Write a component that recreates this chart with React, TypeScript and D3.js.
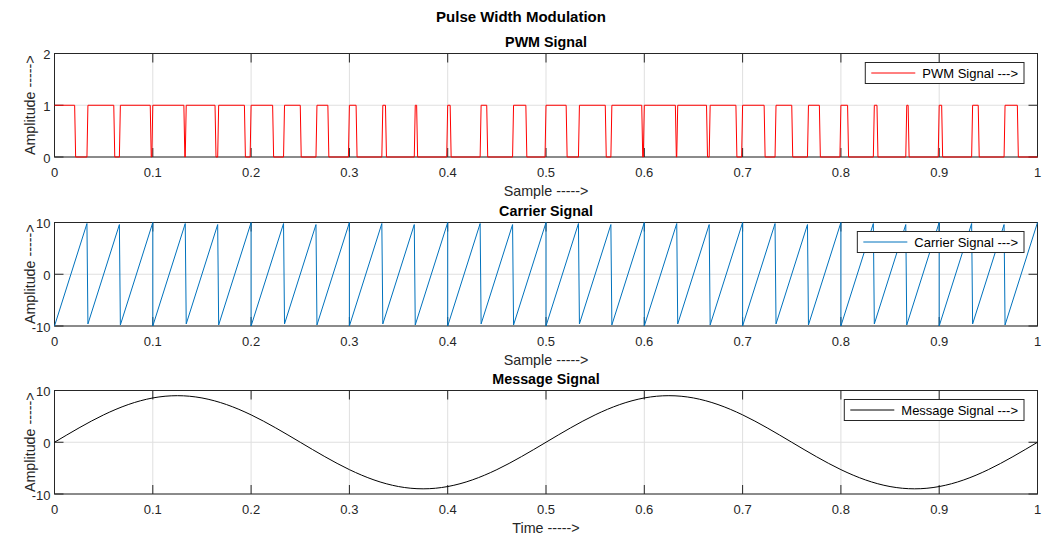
import * as d3 from "d3";
import { useEffect, useRef } from "react";

const xTicks = [0, 0.1, 0.2, 0.3, 0.4, 0.5, 0.6, 0.7, 0.8, 0.9, 1];
const xTickLabels = ["0", "0.1", "0.2", "0.3", "0.4", "0.5", "0.6", "0.7", "0.8", "0.9", "1"];

// PWM: output goes high at each rise time and low at the following fall time
const pwmRise = [
  0, 0.034, 0.067, 0.1, 0.134, 0.167, 0.2, 0.234, 0.267, 0.3, 0.334, 0.367, 0.4, 0.434, 0.467,
  0.5, 0.534, 0.567, 0.6, 0.634, 0.667, 0.7, 0.734, 0.767, 0.8, 0.834, 0.867, 0.9, 0.934, 0.967,
];
const pwmFall = [
  0.0205, 0.0603, 0.0974, 0.1316, 0.1633, 0.1932, 0.2219, 0.25, 0.2781, 0.3068, 0.3367, 0.3684,
  0.4025, 0.4397, 0.4795, 0.5205, 0.5603, 0.5974, 0.6316, 0.6633, 0.6932, 0.7219, 0.75, 0.7781,
  0.8068, 0.8367, 0.8684, 0.9025, 0.9397, 0.9795,
];

// Carrier (sawtooth): low and high corners of every tooth
const carrierLowT = [
  0, 0.034, 0.067, 0.1, 0.134, 0.167, 0.2, 0.234, 0.267, 0.3, 0.334, 0.367, 0.4, 0.434, 0.467,
  0.5, 0.534, 0.567, 0.6, 0.634, 0.667, 0.7, 0.734, 0.767, 0.8, 0.834, 0.867, 0.9, 0.934, 0.967,
];
const carrierLowV = [
  -10, -9.6, -9.8, -10, -9.6, -9.8, -10, -9.6, -9.8, -10, -9.6, -9.8, -10, -9.6, -9.8,
  -10, -9.6, -9.8, -10, -9.6, -9.8, -10, -9.6, -9.8, -10, -9.6, -9.8, -10, -9.6, -9.8,
];
const carrierHighT = [
  0.033, 0.066, 0.1, 0.133, 0.166, 0.2, 0.233, 0.266, 0.3, 0.333, 0.366, 0.4, 0.433, 0.466, 0.5,
  0.533, 0.566, 0.6, 0.633, 0.666, 0.7, 0.733, 0.766, 0.8, 0.833, 0.866, 0.9, 0.933, 0.966, 1,
];
const carrierHighV = [
  9.8, 9.6, 10, 9.8, 9.6, 10, 9.8, 9.6, 10, 9.8, 9.6, 10, 9.8, 9.6, 10,
  9.8, 9.6, 10, 9.8, 9.6, 10, 9.8, 9.6, 10, 9.8, 9.6, 10, 9.8, 9.6, 10,
];

// Message signal
const messageT = [
  0, 0.025, 0.05, 0.075, 0.1, 0.125, 0.15, 0.175, 0.2, 0.225, 0.25, 0.275, 0.3, 0.325, 0.35,
  0.375, 0.4, 0.425, 0.45, 0.475, 0.5, 0.525, 0.55, 0.575, 0.6, 0.625, 0.65, 0.675, 0.7, 0.725,
  0.75, 0.775, 0.8, 0.825, 0.85, 0.875, 0.9, 0.925, 0.95, 0.975, 1,
];
const messageV = [
  0, 2.78, 5.29, 7.28, 8.56, 9, 8.56, 7.28, 5.29, 2.78, 0, -2.78, -5.29, -7.28, -8.56,
  -9, -8.56, -7.28, -5.29, -2.78, 0, 2.78, 5.29, 7.28, 8.56, 9, 8.56, 7.28, 5.29, 2.78,
  0, -2.78, -5.29, -7.28, -8.56, -9, -8.56, -7.28, -5.29, -2.78, 0,
];

const FONT = "'Liberation Sans', Arial, Helvetica, sans-serif";
const AXIS = "#262626";

export default function App() {
  const svgRef = useRef<SVGSVGElement>(null);

  useEffect(() => {
    if (!svgRef.current) return;
    document.body.style.margin = "0";
    const width = 1042;
    const height = 540;
    const svg = d3.select<SVGSVGElement, unknown>(svgRef.current);
    svg.selectAll("*").remove();
    svg.attr("width", width).attr("height", height);

    svg.append("rect").attr("width", width).attr("height", height).attr("fill", "#ffffff");

    const left = 54.5;
    const right = 1037.5;
    const plotH = 103.5;
    const tops = [53.5, 222.5, 390.5];

    svg
      .append("text")
      .attr("x", width / 2)
      .attr("y", 22)
      .attr("text-anchor", "middle")
      .attr("font-family", FONT)
      .attr("font-weight", "bold")
      .attr("font-size", "15px")
      .attr("fill", "#000")
      .text("Pulse Width Modulation");

    const pwmPts: [number, number][] = [];
    pwmRise.forEach((r, i) => {
      if (i > 0) pwmPts.push([r - 0.001, 0]);
      pwmPts.push([r, 1]);
      pwmPts.push([pwmFall[i], 1]);
      pwmPts.push([pwmFall[i] + 0.001, 0]);
    });
    pwmPts.push([1, 0]);

    const carrierPts: [number, number][] = [];
    carrierLowT.forEach((t, i) => {
      carrierPts.push([t, carrierLowV[i]]);
      carrierPts.push([carrierHighT[i], carrierHighV[i]]);
    });

    const messagePts: [number, number][] = messageT.map((t, i) => [t, messageV[i]]);

    const panels = [
      {
        title: "PWM Signal",
        xlabel: "Sample ----->",
        domain: [0, 2],
        yTicks: [0, 1, 2],
        color: "#ff0000",
        legend: "PWM Signal --->",
        pts: pwmPts,
        curve: d3.curveLinear,
      },
      {
        title: "Carrier Signal",
        xlabel: "Sample ----->",
        domain: [-10, 10],
        yTicks: [-10, 0, 10],
        color: "#0072bd",
        legend: "Carrier Signal --->",
        pts: carrierPts,
        curve: d3.curveLinear,
      },
      {
        title: "Message Signal",
        xlabel: "Time ----->",
        domain: [-10, 10],
        yTicks: [-10, 0, 10],
        color: "#000000",
        legend: "Message Signal --->",
        pts: messagePts,
        curve: d3.curveNatural,
      },
    ];

    const x = d3.scaleLinear().domain([0, 1]).range([left, right]);

    panels.forEach((p, i) => {
      const top = tops[i];
      const bottom = top + plotH;
      const y = d3.scaleLinear().domain(p.domain).range([bottom, top]);
      const g = svg.append("g");

      // grid
      g.selectAll("line.gx")
        .data(xTicks)
        .enter()
        .append("line")
        .attr("x1", (d) => x(d))
        .attr("x2", (d) => x(d))
        .attr("y1", top)
        .attr("y2", bottom)
        .attr("stroke", "#dfdfdf")
        .attr("stroke-width", 1);
      g.selectAll("line.gy")
        .data(p.yTicks)
        .enter()
        .append("line")
        .attr("x1", left)
        .attr("x2", right)
        .attr("y1", (d) => y(d))
        .attr("y2", (d) => y(d))
        .attr("stroke", "#dfdfdf")
        .attr("stroke-width", 1);

      // ticks (inward, all four sides)
      const tl = 9;
      xTicks.forEach((d) => {
        g.append("line").attr("x1", x(d)).attr("x2", x(d)).attr("y1", bottom).attr("y2", bottom - tl).attr("stroke", AXIS);
        g.append("line").attr("x1", x(d)).attr("x2", x(d)).attr("y1", top).attr("y2", top + tl).attr("stroke", AXIS);
      });
      p.yTicks.forEach((d) => {
        g.append("line").attr("x1", left).attr("x2", left + tl).attr("y1", y(d)).attr("y2", y(d)).attr("stroke", AXIS);
        g.append("line").attr("x1", right).attr("x2", right - tl).attr("y1", y(d)).attr("y2", y(d)).attr("stroke", AXIS);
      });

      // box
      g.append("rect")
        .attr("x", left)
        .attr("y", top)
        .attr("width", right - left)
        .attr("height", plotH)
        .attr("fill", "none")
        .attr("stroke", AXIS)
        .attr("stroke-width", 1);

      // tick labels
      g.selectAll("text.xt")
        .data(xTicks)
        .enter()
        .append("text")
        .attr("x", (d) => x(d))
        .attr("y", bottom + 20)
        .attr("text-anchor", "middle")
        .attr("font-family", FONT)
        .attr("font-size", "13px")
        .attr("fill", AXIS)
        .text((_, j) => xTickLabels[j]);
      g.selectAll("text.yt")
        .data(p.yTicks)
        .enter()
        .append("text")
        .attr("x", left - 4)
        .attr("y", (d) => y(d) + 5.5)
        .attr("text-anchor", "end")
        .attr("font-family", FONT)
        .attr("font-size", "13px")
        .attr("fill", AXIS)
        .text((d) => String(d));

      // title and labels
      g.append("text")
        .attr("x", (left + right) / 2)
        .attr("y", top - 6.5)
        .attr("text-anchor", "middle")
        .attr("font-family", FONT)
        .attr("font-weight", "bold")
        .attr("font-size", "14.3px")
        .attr("fill", "#000")
        .text(p.title);
      g.append("text")
        .attr("x", (left + right) / 2)
        .attr("y", bottom + 38.5)
        .attr("text-anchor", "middle")
        .attr("font-family", FONT)
        .attr("font-size", "14.3px")
        .attr("fill", AXIS)
        .text(p.xlabel);
      g.append("text")
        .attr("transform", `translate(35,${(top + bottom) / 2}) rotate(-90)`)
        .attr("text-anchor", "middle")
        .attr("font-family", FONT)
        .attr("font-size", "14.3px")
        .attr("fill", AXIS)
        .text("Amplitude ----->");

      // data
      const line = d3
        .line<[number, number]>()
        .x((d) => x(d[0]))
        .y((d) => y(d[1]))
        .curve(p.curve);
      g.append("path")
        .attr("d", line(p.pts) ?? "")
        .attr("fill", "none")
        .attr("stroke", p.color)
        .attr("stroke-width", 1);

      // legend
      const lg = g.append("g");
      const box = lg.append("rect");
      const txt = lg
        .append("text")
        .attr("font-family", FONT)
        .attr("font-size", "13px")
        .attr("fill", "#000")
        .text(p.legend);
      const tw = (txt.node() as SVGTextElement).getComputedTextLength();
      const boxR = 1024;
      const boxW = tw + 63;
      const boxL = boxR - boxW;
      const boxT = top + 9;
      const boxH = 21;
      box
        .attr("x", boxL)
        .attr("y", boxT)
        .attr("width", boxW)
        .attr("height", boxH)
        .attr("fill", "#fff")
        .attr("stroke", AXIS)
        .attr("stroke-width", 1);
      lg.append("line")
        .attr("x1", boxL + 6)
        .attr("x2", boxL + 50)
        .attr("y1", boxT + boxH / 2)
        .attr("y2", boxT + boxH / 2)
        .attr("stroke", p.color)
        .attr("stroke-width", 1);
      txt.attr("x", boxL + 57).attr("y", boxT + boxH / 2 + 4.5);
    });
  }, []);

  return (
    <svg
      ref={svgRef}
      style={{ display: "block", position: "absolute", left: 0, top: 0 }}
    ></svg>
  );
}
